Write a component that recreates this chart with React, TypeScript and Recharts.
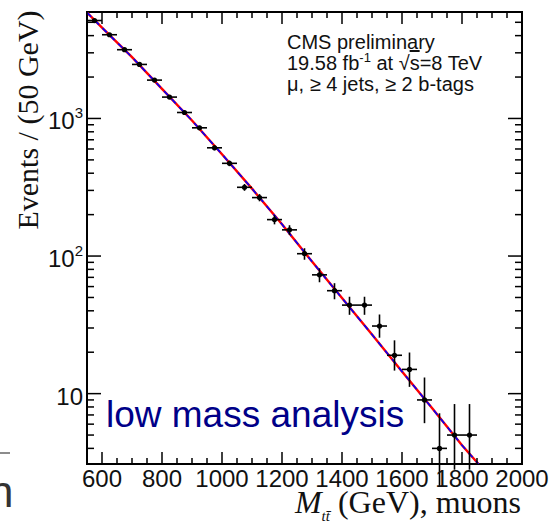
import React from 'react'
import { ComposedChart, Line, Scatter, ErrorBar, XAxis, YAxis, ReferenceArea } from 'recharts'

// measured data, 50 GeV bins (bin centres in GeV)
const binCenters = [
  575, 625, 675, 725, 775, 825, 875, 925, 975, 1025, 1075, 1125, 1175, 1225, 1275, 1325, 1375, 1425,
  1475, 1525, 1575, 1625, 1675, 1725, 1775, 1825,
]
const events = [
  5150, 4060, 3160, 2470, 1900, 1430, 1105, 855, 612, 472, 316, 266, 184, 155, 104, 73, 56, 44, 44, 31,
  19, 15, 9, 4, 5, 5,
]
const errLow = [
  72, 64, 56, 50, 44, 38, 33, 29, 25, 22, 18, 16, 14, 12.5, 10, 8.5, 7.5, 6.6, 6.6, 5.5, 4.3, 3.8, 2.9,
  1.9, 2.2, 2.2,
]
const errHigh = [
  72, 64, 56, 50, 44, 38, 33, 29, 25, 22, 18, 16, 14, 12.5, 10, 8.5, 7.5, 6.6, 6.6, 6.6, 5.4, 4.9, 4.1,
  3.2, 3.4, 3.4,
]
const BIN_HALF_WIDTH = 25

// fit curve
const fitMass = [550, 600, 700, 800, 900, 1000, 1100, 1200, 1300, 1400, 1500, 1600, 1700, 1800, 1855]
const fitEvents = [5890, 4570, 2790, 1640, 966, 550, 309, 170, 91.2, 49.5, 26.9, 14.5, 7.85, 4.22, 3.08]

const xTicks = [
  550, 600, 650, 700, 750, 800, 850, 900, 950, 1000, 1050, 1100, 1150, 1200, 1250, 1300, 1350, 1400,
  1450, 1500, 1550, 1600, 1650, 1700, 1750, 1800, 1850, 1900, 1950, 2000,
]
const xMajor = [600, 800, 1000, 1200, 1400, 1600, 1800, 2000]
const yTicks = [
  4, 5, 6, 7, 8, 9, 10, 20, 30, 40, 50, 60, 70, 80, 90, 100, 200, 300, 400, 500, 600, 700, 800, 900,
  1000, 2000, 3000, 4000, 5000,
]
const yLabels: Record<number, [string, string]> = { 10: ['10', ''], 100: ['10', '2'], 1000: ['10', '3'] }

const X_DOMAIN: [number, number] = [550, 2000]
const Y_DOMAIN: [number, number] = [3.08, 5940]

const W = 549
const H = 524
const PLOT = { left: 87, right: 522, top: 12, bottom: 464 }
const SANS = '"Liberation Sans", Arial, sans-serif'
const SERIF = '"Liberation Serif", "Times New Roman", serif'

const points = binCenters.map((x, i) => ({
  x,
  y: events[i],
  yErr: [errLow[i], errHigh[i]],
  xErr: BIN_HALF_WIDTH,
}))
const fitData = fitMass.map((x, i) => ({ x, y: fitEvents[i] }))

const renderXTick = (props: any) => {
  const { x, payload } = props
  const major = xMajor.includes(payload.value)
  const len = major ? 12 : 6
  return (
    <g key={`xt-${payload.value}`}>
      <line x1={x} x2={x} y1={PLOT.bottom} y2={PLOT.bottom - len} stroke="#000" strokeWidth={1.5} />
      <line x1={x} x2={x} y1={PLOT.top} y2={PLOT.top + len} stroke="#000" strokeWidth={1.5} />
      {major && (
        <text x={x} y={487} textAnchor="middle" fontFamily={SANS} fontSize={24} fill="#111">
          {payload.value}
        </text>
      )}
    </g>
  )
}

const renderYTick = (props: any) => {
  const { y, payload } = props
  const label = yLabels[payload.value]
  const len = label ? 14 : 7
  return (
    <g key={`yt-${payload.value}`}>
      <line x1={PLOT.left} x2={PLOT.left + len} y1={y} y2={y} stroke="#000" strokeWidth={1.5} />
      <line x1={PLOT.right} x2={PLOT.right - len} y1={y} y2={y} stroke="#000" strokeWidth={1.5} />
      {label && (
        <text x={83} y={y + 11} textAnchor="end" fontFamily={SANS} fontSize={24} fill="#111">
          {label[0]}
          {label[1] && (
            <tspan dy={-11} fontSize={15}>
              {label[1]}
            </tspan>
          )}
        </text>
      )}
    </g>
  )
}

export default function App() {
  return (
    <div style={{ position: 'absolute', left: 0, top: 0, width: W, height: H, background: '#fff' }}>
      <ComposedChart width={W} height={H} margin={{ top: PLOT.top, right: W - PLOT.right, bottom: 0, left: 0 }}>
        <XAxis
          type="number"
          dataKey="x"
          domain={X_DOMAIN}
          allowDataOverflow
          ticks={xTicks}
          interval={0}
          height={H - PLOT.bottom}
          tickLine={false}
          axisLine={false}
          tick={renderXTick}
        />
        <YAxis
          type="number"
          scale="log"
          domain={Y_DOMAIN}
          allowDataOverflow
          ticks={yTicks}
          interval={0}
          width={PLOT.left}
          tickLine={false}
          axisLine={false}
          tick={renderYTick}
        />
        <ReferenceArea
          x1={X_DOMAIN[0]}
          x2={X_DOMAIN[1]}
          y1={Y_DOMAIN[0]}
          y2={Y_DOMAIN[1]}
          ifOverflow="visible"
          fill="none"
          fillOpacity={0}
          stroke="#000"
          strokeWidth={2}
        />
        <Line
          data={fitData}
          dataKey="y"
          type="linear"
          dot={false}
          stroke="#ff0000"
          strokeWidth={2.4}
          isAnimationActive={false}
        />
        <Line
          data={fitData}
          dataKey="y"
          type="linear"
          dot={false}
          stroke="#0000ff"
          strokeWidth={1.6}
          strokeDasharray="6 5"
          isAnimationActive={false}
        />
        <Scatter
          data={points}
          dataKey="y"
          isAnimationActive={false}
          shape={(p: any) => <circle cx={p.cx} cy={p.cy} r={2.6} fill="#000" />}
        >
          <ErrorBar dataKey="xErr" direction="x" width={0} stroke="#000" strokeWidth={1.6} />
          <ErrorBar dataKey="yErr" direction="y" width={0} stroke="#000" strokeWidth={1.6} />
        </Scatter>
      </ComposedChart>

      <svg width={W} height={H} style={{ position: 'absolute', left: 0, top: 0, pointerEvents: 'none' }}>
        <text x={38} y={120} transform="rotate(-90 38 120)" textAnchor="middle" fontFamily={SERIF} fontSize={30} fill="#111">
          Events / (50 GeV)
        </text>
        <text x={521} y={513} textAnchor="end" fontFamily={SERIF} fontSize={32} fill="#111">
          <tspan fontStyle="italic">M</tspan>
          <tspan fontStyle="italic" fontSize={15} dy={8}>
            {'tt\u0304'}
          </tspan>
          <tspan dy={-8}>{' (GeV), muons'}</tspan>
        </text>
        <g fontFamily={SANS} fontSize={20} fill="#111">
          <text x={287} y={49}>CMS preliminary</text>
          <text x={287} y={70}>
            19.58 fb
            <tspan dy={-8} fontSize={13}>
              -1
            </tspan>
            <tspan dy={8}> at √</tspan>
            <tspan textDecoration="overline">s</tspan>=8 TeV
          </text>
          <text x={287} y={91}>μ, ≥ 4 jets, ≥ 2 b-tags</text>
        </g>
        <text x={106} y={427} fontFamily={SANS} fontSize={37} fill="#000088">
          low mass analysis
        </text>
        <line x1={0} x2={10} y1={453} y2={453} stroke="#666" strokeWidth={1.5} />
        <text x={-11} y={507} fontFamily={SANS} fontSize={44} fill="#333">
          n
        </text>
      </svg>
    </div>
  )
}
